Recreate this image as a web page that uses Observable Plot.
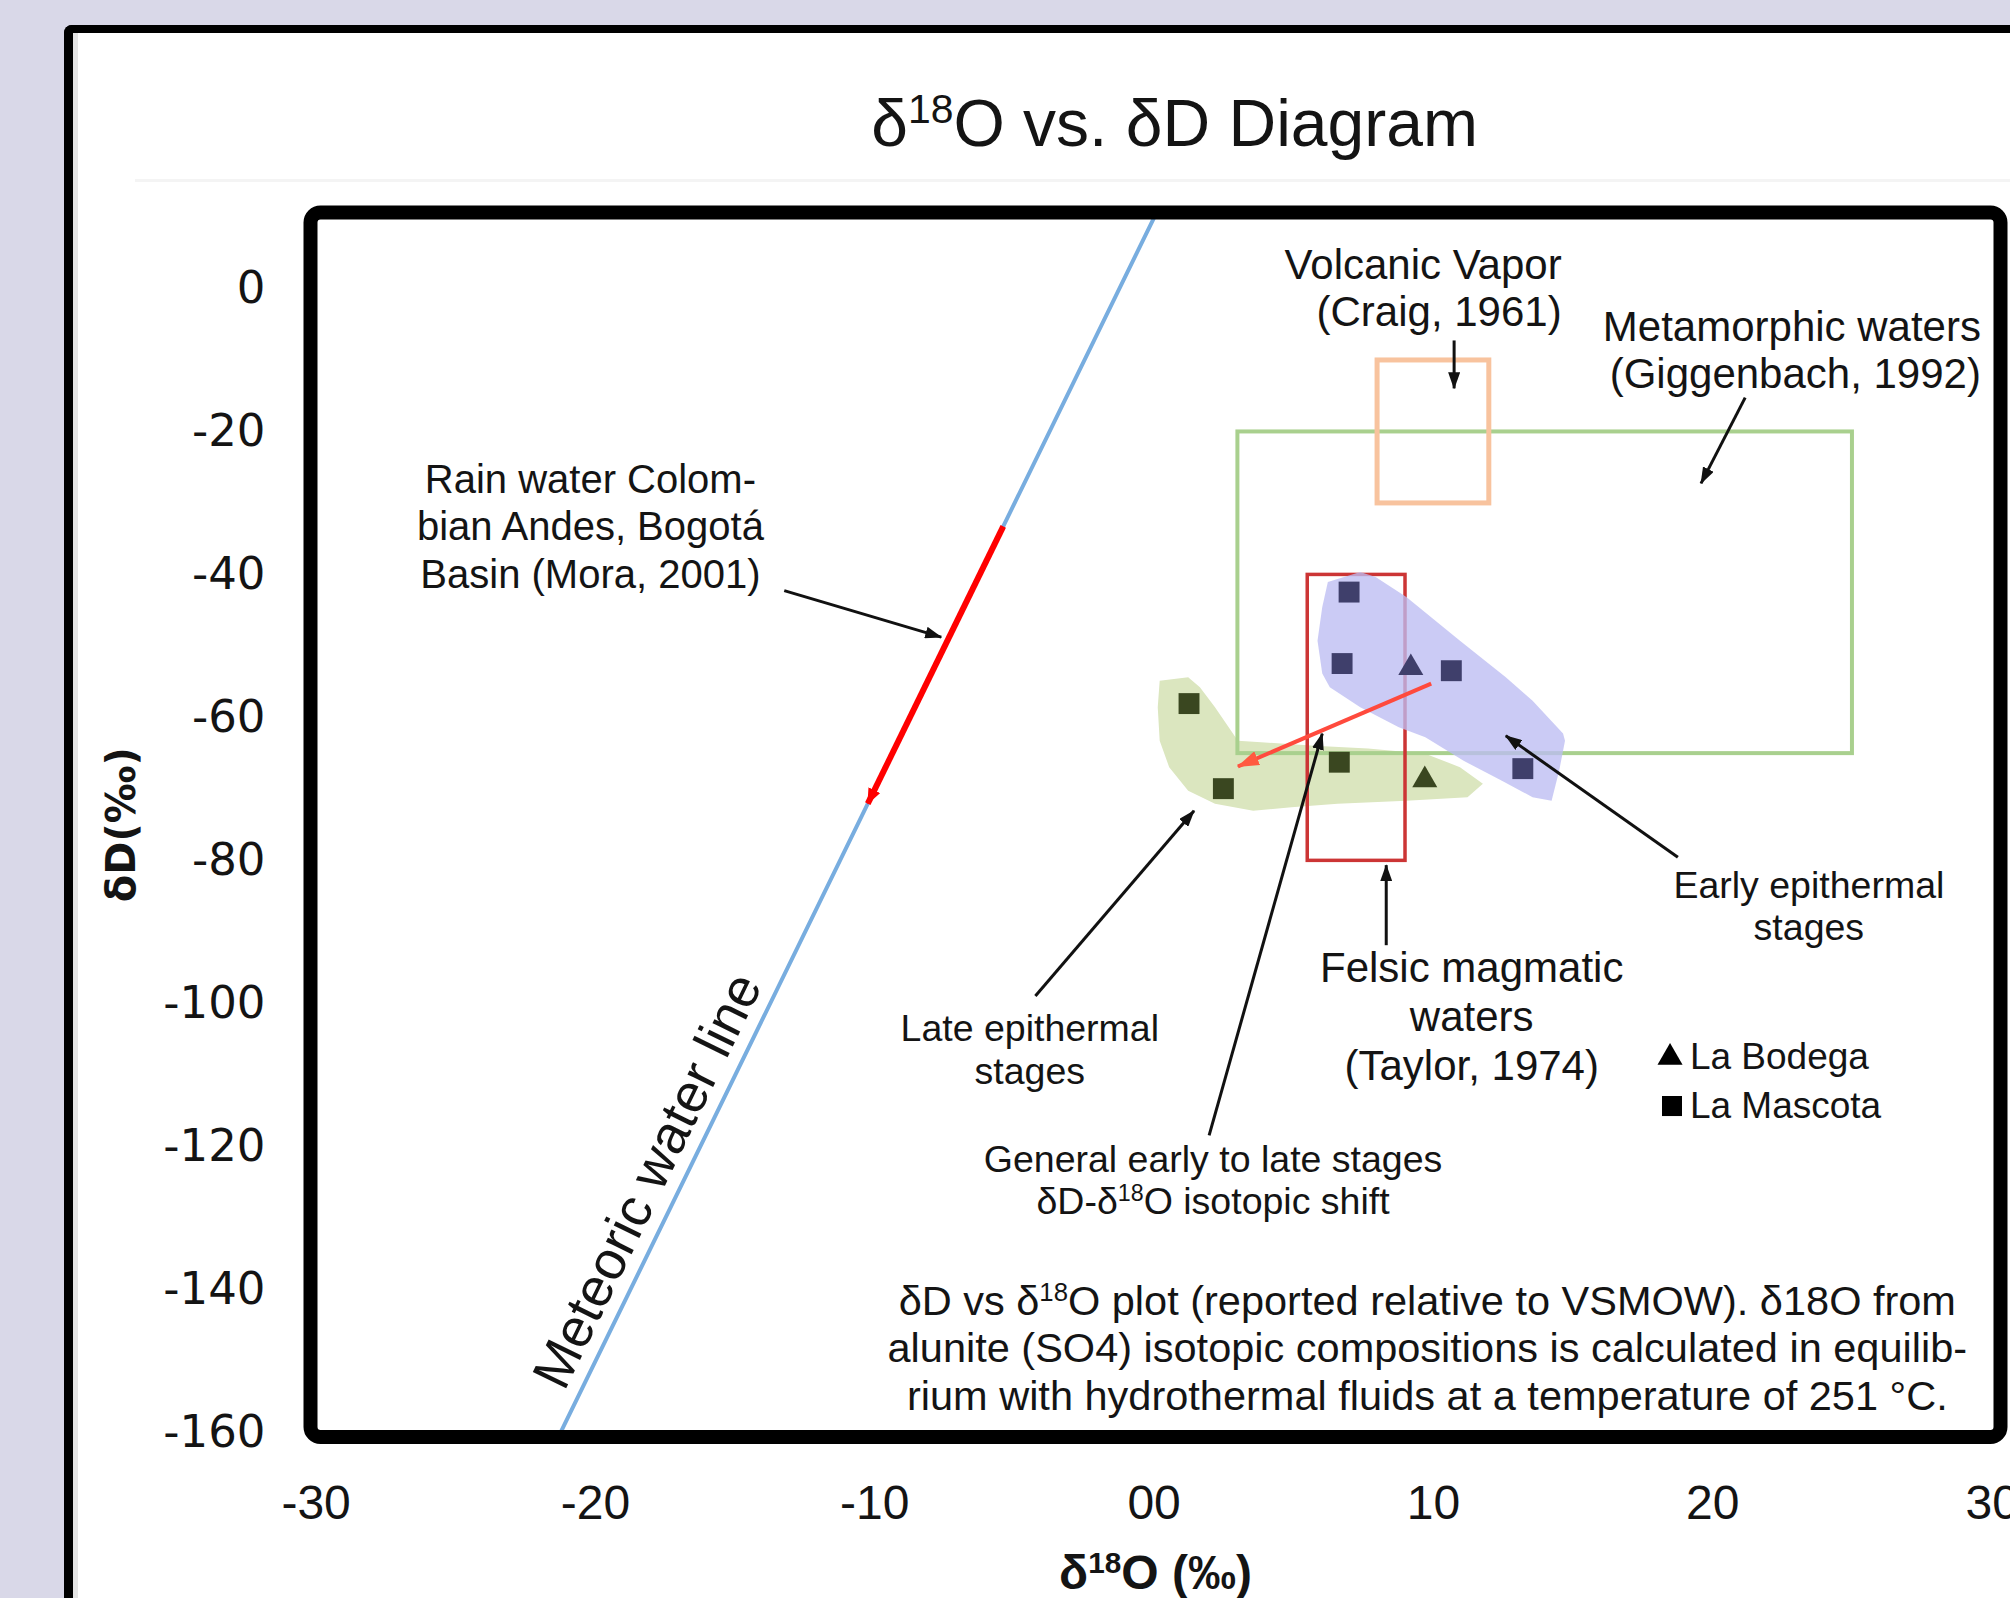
<!DOCTYPE html>
<html>
<head>
<meta charset="utf-8">
<script src="https://cdn.jsdelivr.net/npm/d3@7"></script>
<script src="https://cdn.jsdelivr.net/npm/@observablehq/plot@0.6"></script>
<style>
  html, body { margin: 0; padding: 0; background: #d9d8e8; width: 2010px; height: 1598px; overflow: hidden; }
  #panel { position: absolute; left: 64px; top: 25px; width: 2100px; height: 1700px; background: #fff;
           border-left: 9px solid #000; border-top: 8px solid #000; border-top-left-radius: 8px;
           box-shadow: inset 5px 0 0 #e4e4e4; }
  #rule { position: absolute; left: 135px; top: 179px; width: 1875px; height: 3px; background: #f4f4f4; }
  #chart { position: absolute; left: 0; top: 0; }
</style>
</head>
<body>
<div id="panel"></div>
<div id="rule"></div>
<div id="chart"></div>
<script>
// ---------------- data ----------------
const xTicks = [-30, -20, -10, 0, 10, 20, 30];
const xTickLabels = ["-30", "-20", "-10", "00", "10", "20", "30"];
const yTicks = [0, -20, -40, -60, -80, -100, -120, -140, -160];

// Global meteoric water line (δD = 8·δ18O + 10), endpoints
const meteoricLine = [[-21.25, -160], [0, 10]];
// Rain water, Colombian Andes (Mora, 2001) – segment on the MWL
const rainSegment = [{x1: -5.4, y1: -33.2, x2: -10.25, y2: -72.0}];

// Reference fields (δ18O range, δD range)
const volcanicBox = [{x1: 8, x2: 12, y1: -30, y2: -10}];
const metamorphicBox = [{x1: 3, x2: 25, y1: -65, y2: -20}];
const felsicBox = [{x1: 5.5, x2: 9, y1: -80, y2: -40}];

// Sample points
const earlyMascota = [[6.98, -42.4], [6.73, -52.4], [10.64, -53.4], [13.2, -67.1]];
const earlyBodega = [[9.19, -53.0]];
const lateMascota = [[1.25, -58.0], [2.48, -69.9], [6.63, -66.2]];
const lateBodega = [[9.69, -68.7]];

// Stage envelopes
const earlyField = [[6.22, -41.0], [7.38, -39.6], [7.93, -40.3], [9.03, -43.1], [10.95, -49.2], [12.59, -54.3],
  [13.55, -57.6], [14.64, -62.2], [14.71, -63.2], [14.5, -67.4], [14.23, -71.6], [13.55, -71.1], [12.45, -68.8],
  [11.08, -66.0], [9.71, -62.7], [8.76, -61.3], [7.38, -58.5], [6.29, -55.7], [6.02, -53.8], [5.85, -49.2], [6.02, -44.5]];
const lateField = [[0.2, -54.8], [1.22, -54.3], [1.64, -55.7], [2.18, -58.5], [3.0, -63.2], [3.83, -63.4], [5.74, -63.9],
  [7.66, -64.3], [9.71, -65.0], [10.95, -66.9], [11.77, -69.2], [11.22, -71.1], [9.03, -71.6], [6.57, -72.0],
  [4.92, -72.5], [3.55, -73.0], [2.18, -72.0], [1.22, -70.2], [0.54, -66.9], [0.2, -63.2], [0.13, -58.5]];

// Early-to-late isotopic shift
const shiftArrow = [{x1: 9.92, y1: -55.2, x2: 3.0, y2: -66.8}];

// Callout arrows (tail -> head)
const calloutArrows = [
  {x1: -13.24, y1: -42.2, x2: -7.62, y2: -48.7},
  {x1: 10.74, y1: -7.2, x2: 10.74, y2: -13.9},
  {x1: 21.16, y1: -15.2, x2: 19.58, y2: -27.2},
  {x1: 8.31, y1: -91.8, x2: 8.31, y2: -80.6},
  {x1: 18.75, y1: -79.5, x2: 12.59, y2: -62.5},
  {x1: -4.25, y1: -98.9, x2: 1.43, y2: -73.0},
  {x1: 1.97, y1: -118.4, x2: 6.02, y2: -62.2}
];

// Annotation texts
const rightNotes = [
  {text: "Volcanic Vapor\n(Craig, 1961)", x: 14.59, y: 0.2},
  {text: "Metamorphic waters\n(Giggenbach, 1992)", x: 29.6, y: -8.5}
];
const felsicNote = [{text: "Felsic magmatic\nwaters\n(Taylor, 1974)", x: 11.37, y: -101.6}];
const rainNote = [{text: "Rain water Colom-\nbian Andes, Bogotá\nBasin (Mora, 2001)", x: -20.18, y: -33.0}];
const smallNotes = [
  {text: "Early epithermal\nstages", x: 23.44, y: -86.2},
  {text: "Late epithermal\nstages", x: -4.45, y: -106.3},
  {text: "General early to late stages\nδD-δ^18O isotopic shift", x: 2.11, y: -124.6}
];
const mwlLabel = [{text: "Meteoric water line", x: -18.12, y: -124.8}];
const captionNote = [{text: "δD vs δ^18O plot (reported relative to VSMOW). δ18O from\nalunite (SO4) isotopic compositions is calculated in equilib-\nrium with hydrothermal fluids at a temperature of 251 °C.", x: 9.78, y: -148.0}];
const legendBodega = [{label: "La Bodega", x: 18.47, y: -107.5, tx: 19.18}];
const legendMascota = [{label: "La Mascota", x: 18.54, y: -114.3, tx: 19.18}];

const titleText = "δ^18O vs. δD Diagram";
const xLabel = "δ^18O (‰)";
const yLabel = "δD(‰)";

// ---------------- chart ----------------
const SANS = "'Liberation Sans', Arial, Helvetica, sans-serif";
const WIDE = "'DejaVu Sans', Verdana, sans-serif";
const ink = "#141414";
const px = d => d[0], py = d => d[1];
const T = {fontFamily: SANS, fill: ink, lineAnchor: "middle"};

const chart = Plot.plot({
  width: 2010, height: 1598,
  marginLeft: 310, marginRight: 10, marginTop: 212, marginBottom: 161.5,
  style: {background: "transparent", overflow: "visible"},
  x: {domain: [-30.2, 30.3]},
  y: {domain: [-160.6, 10.7]},
  marks: [
    Plot.line(lateField, {x: px, y: py, curve: "linear-closed", fill: "#dbe6bf", stroke: "none"}),
    Plot.rect(metamorphicBox, {x1: "x1", x2: "x2", y1: "y1", y2: "y2", fill: "none", stroke: "#a9d08e", strokeWidth: 4}),
    Plot.rect(volcanicBox, {x1: "x1", x2: "x2", y1: "y1", y2: "y2", fill: "none", stroke: "#f8c39e", strokeWidth: 5}),
    Plot.rect(felsicBox, {x1: "x1", x2: "x2", y1: "y1", y2: "y2", fill: "none", stroke: "#cc3535", strokeWidth: 3.5}),
    Plot.line(earlyField, {x: px, y: py, curve: "linear-closed", fill: "#bcbcf2", fillOpacity: 0.78, stroke: "none"}),
    Plot.line(meteoricLine, {x: px, y: py, stroke: "#78addf", strokeWidth: 4}),
    Plot.link(rainSegment, {x1: "x1", y1: "y1", x2: "x2", y2: "y2", stroke: "#ff0000", strokeWidth: 6}),
    Plot.dot(earlyMascota, {x: px, y: py, symbol: "square", r: 11.8, fill: "#3f3f6b"}),
    Plot.dot(earlyBodega, {x: px, y: py, symbol: "triangle", r: 9.3, fill: "#3f3f6b"}),
    Plot.dot(lateMascota, {x: px, y: py, symbol: "square", r: 11.8, fill: "#3a4720"}),
    Plot.dot(lateBodega, {x: px, y: py, symbol: "triangle", r: 9.3, fill: "#3a4720"}),
    Plot.link(shiftArrow, {x1: "x1", y1: "y1", x2: "x2", y2: "y2", stroke: "#ff4a3d", strokeWidth: 4}),
    Plot.link(calloutArrows, {x1: "x1", y1: "y1", x2: "x2", y2: "y2", stroke: "#111111", strokeWidth: 3}),

    Plot.text(rightNotes, {...T, x: "x", y: "y", text: "text", textAnchor: "end", fontSize: 42, lineHeight: 1.12}),
    Plot.text(felsicNote, {...T, x: "x", y: "y", text: "text", fontSize: 42, lineHeight: 1.16}),
    Plot.text(rainNote, {...T, x: "x", y: "y", text: "text", fontSize: 40, lineHeight: 1.19}),
    Plot.text(smallNotes, {...T, x: "x", y: "y", text: "text", fontSize: 37.5, lineHeight: 1.13}),
    Plot.text(mwlLabel, {...T, x: "x", y: "y", text: "text", fontSize: 54, rotate: -64}),
    Plot.text(captionNote, {...T, x: "x", y: "y", text: "text", fontSize: 41.5, lineHeight: 1.145}),

    Plot.dot(legendBodega, {x: "x", y: "y", symbol: "triangle", r: 9.3, fill: "#000"}),
    Plot.dot(legendMascota, {x: "x", y: "y", symbol: "square", r: 11.3, fill: "#000"}),
    Plot.text(legendBodega, {...T, x: "tx", y: "y", text: "label", textAnchor: "start", fontSize: 37}),
    Plot.text(legendMascota, {...T, x: "tx", y: "y", text: "label", textAnchor: "start", fontSize: 37}),

    Plot.axisX(xTicks, {tickSize: 0, tickPadding: 48, tickFormat: d => xTickLabels[xTicks.indexOf(d)], fontSize: 48, fontFamily: SANS, fill: ink, label: null}),
    Plot.axisY(yTicks, {tickSize: 0, tickPadding: 45, tickFormat: d => String(d), fontSize: 45, fontFamily: WIDE, fill: ink, label: null}),

    Plot.text([titleText], {text: d => d, frameAnchor: "top", dx: 19, dy: -67, lineAnchor: "bottom", fontSize: 66, fontFamily: SANS, fill: ink}),
    Plot.text([xLabel], {text: d => d, frameAnchor: "bottom", dy: 137, lineAnchor: "middle", textAnchor: "middle", fontSize: 48, fontWeight: "bold", fontFamily: SANS, fill: ink}),
    Plot.text([yLabel], {text: d => d, frameAnchor: "left", dx: -188, rotate: -90, lineAnchor: "middle", textAnchor: "middle", fontSize: 40, fontWeight: "bold", fontFamily: WIDE, fill: ink}),

    Plot.frame({stroke: "#000", strokeWidth: 14, rx: 10})
  ]
});

document.getElementById("chart").appendChild(chart);

// ---------------- post-processing: superscripts & filled arrowheads ----------------
const NS = "http://www.w3.org/2000/svg";
chart.querySelectorAll("text, tspan").forEach(el => {
  [...el.childNodes].forEach(node => {
    if (node.nodeType === 3 && node.nodeValue.includes("^18")) {
      const parts = node.nodeValue.split("^18");
      const frag = document.createDocumentFragment();
      parts.forEach((p, i) => {
        if (i > 0) {
          const s = document.createElementNS(NS, "tspan");
          s.setAttribute("baseline-shift", "super");
          s.setAttribute("style", "font-size:0.62em");
          s.textContent = "18";
          frag.appendChild(s);
          const rest = document.createElementNS(NS, "tspan");
          rest.textContent = p;
          frag.appendChild(rest);
        } else {
          frag.appendChild(document.createTextNode(p));
        }
      });
      el.replaceChild(frag, node);
    }
  });
});

const defs = document.createElementNS(NS, "defs");
function addMarker(id, color, len, wid) {
  const m = document.createElementNS(NS, "marker");
  m.setAttribute("id", id);
  m.setAttribute("viewBox", `0 0 ${len} ${wid}`);
  m.setAttribute("refX", len - 1);
  m.setAttribute("refY", wid / 2);
  m.setAttribute("markerWidth", len);
  m.setAttribute("markerHeight", wid);
  m.setAttribute("markerUnits", "userSpaceOnUse");
  m.setAttribute("orient", "auto");
  const p = document.createElementNS(NS, "path");
  p.setAttribute("d", `M0,0L${len},${wid / 2}L0,${wid}Z`);
  p.setAttribute("fill", color);
  m.appendChild(p);
  defs.appendChild(m);
}
addMarker("ahBlack", "#111111", 17, 12);
addMarker("ahRed", "#ff0000", 16, 13);
addMarker("ahOrange", "#ff5a40", 22, 15);
chart.insertBefore(defs, chart.firstChild);
chart.querySelectorAll('g[aria-label="link"]').forEach(g => {
  const s = (g.getAttribute("stroke") || "").toLowerCase();
  const id = s === "#ff0000" ? "ahRed" : s === "#ff4a3d" ? "ahOrange" : "ahBlack";
  g.querySelectorAll("path, line").forEach(p => p.setAttribute("marker-end", `url(#${id})`));
});
</script>
</body>
</html>
